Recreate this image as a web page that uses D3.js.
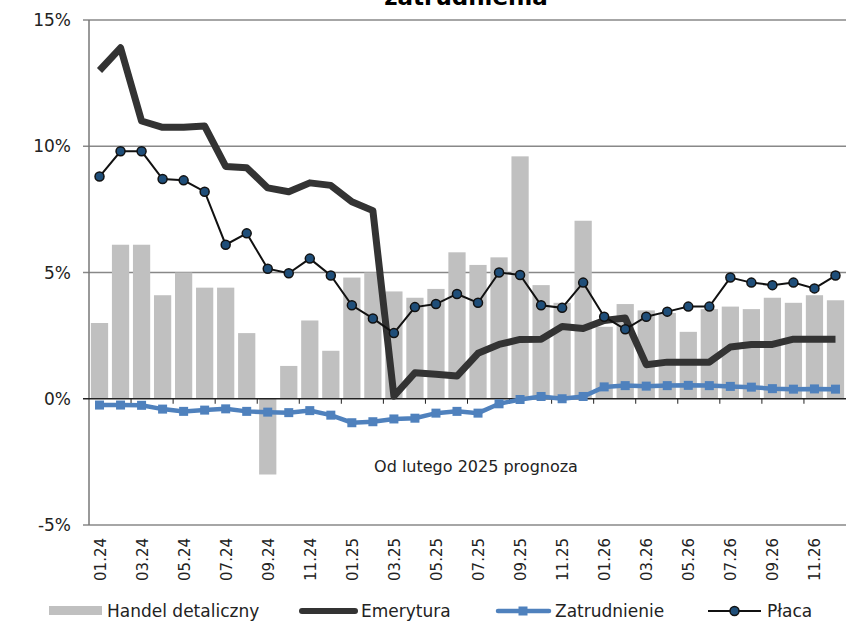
<!DOCTYPE html>
<html>
<head>
  <meta charset="utf-8">
  <title>zatrudnienia</title>
  <script src="https://d3js.org/d3.v7.min.js"></script>
  <style>
    body { margin: 0; background: #fff; }
    svg { display: block; font-family: "DejaVu Sans", Verdana, sans-serif; }
  </style>
</head>
<body>
  <svg width="846" height="623"></svg>
  <script>
    // miesiące 01.24 - 12.26
    var months = [];
    ["24", "25", "26"].forEach(function (yr) {
      for (var m = 1; m <= 12; m++) months.push((m < 10 ? "0" + m : "" + m) + "." + yr);
    });

    var handel = [3.0, 6.1, 6.1, 4.1, 5.0, 4.4, 4.4, 2.6, -3.0, 1.3, 3.1, 1.9,
                  4.8, 5.0, 4.25, 4.0, 4.35, 5.8, 5.3, 5.6, 9.6, 4.5, 3.8, 7.05,
                  2.85, 3.75, 3.5, 3.4, 2.65, 3.55, 3.65, 3.55, 4.0, 3.8, 4.1, 3.9];
    var emerytura = [13.0, 13.9, 11.0, 10.75, 10.75, 10.8, 9.2, 9.15, 8.35, 8.2, 8.55, 8.45,
                     7.8, 7.45, 0.1, 1.03, 0.97, 0.9, 1.8, 2.15, 2.35, 2.36, 2.86, 2.78,
                     3.1, 3.2, 1.35, 1.45, 1.45, 1.45, 2.05, 2.15, 2.15, 2.36, 2.36, 2.36];
    var zatrudnienie = [-0.25, -0.25, -0.26, -0.41, -0.5, -0.45, -0.4, -0.5, -0.53, -0.55, -0.47, -0.65,
                        -0.95, -0.91, -0.8, -0.77, -0.57, -0.5, -0.57, -0.2, -0.03, 0.09, 0.0, 0.09,
                        0.47, 0.52, 0.5, 0.52, 0.53, 0.52, 0.49, 0.46, 0.4, 0.38, 0.39, 0.38];
    var placa = [8.8, 9.8, 9.8, 8.7, 8.65, 8.2, 6.1, 6.55, 5.15, 4.97, 5.55, 4.88,
                 3.7, 3.18, 2.6, 3.63, 3.75, 4.15, 3.8, 5.0, 4.9, 3.7, 3.6, 4.6,
                 3.25, 2.75, 3.25, 3.45, 3.65, 3.65, 4.8, 4.6, 4.5, 4.6, 4.37, 4.88];
    var yTicks = [-5, 0, 5, 10, 15];

    var svg = d3.select("svg");
    var x = d3.scaleBand().domain(months).range([89, 846]).paddingInner(0.18).paddingOuter(0.09);
    var y = d3.scaleLinear().domain([-5, 15]).range([525, 20]);
    var cx = function (i) { return x(months[i]) + x.bandwidth() / 2; };

    // siatka pozioma
    svg.append("g").selectAll("line")
      .data(yTicks.filter(function (t) { return t !== 0; }))
      .enter().append("line")
      .attr("x1", 83).attr("x2", 846)
      .attr("y1", function (d) { return y(d); }).attr("y2", function (d) { return y(d); })
      .attr("stroke", "#888").attr("stroke-width", 1.5);

    // słupki - handel detaliczny
    svg.append("g").selectAll("rect")
      .data(handel)
      .enter().append("rect")
      .attr("x", function (d, i) { return x(months[i]); })
      .attr("width", x.bandwidth())
      .attr("y", function (d) { return y(Math.max(0, d)); })
      .attr("height", function (d) { return Math.abs(y(d) - y(0)); })
      .attr("fill", "#c0c0c0");

    // oś Y
    svg.append("line")
      .attr("x1", 89).attr("x2", 89).attr("y1", y(15)).attr("y2", y(-5))
      .attr("stroke", "#777").attr("stroke-width", 1.5);
    svg.append("g").selectAll("text")
      .data(yTicks)
      .enter().append("text")
      .attr("x", 71).attr("y", function (d) { return y(d) + 6; })
      .attr("text-anchor", "end")
      .attr("font-size", 17).attr("fill", "#222")
      .text(function (d) { return d + "%"; });

    // oś X na zerze
    svg.append("line")
      .attr("x1", 83).attr("x2", 846).attr("y1", y(0)).attr("y2", y(0))
      .attr("stroke", "#222").attr("stroke-width", 1.5);
    svg.append("g").selectAll("line")
      .data(months.filter(function (d, i) { return i % 2 === 0 && i > 0; }))
      .enter().append("line")
      .attr("x1", function (d) { return x(d) - x.step() * x.paddingInner() / 2; })
      .attr("x2", function (d) { return x(d) - x.step() * x.paddingInner() / 2; })
      .attr("y1", y(0)).attr("y2", y(0) + 5)
      .attr("stroke", "#222").attr("stroke-width", 1);

    svg.append("g").selectAll("text")
      .data(months.filter(function (d, i) { return i % 2 === 0; }))
      .enter().append("text")
      .attr("transform", function (d) {
        return "translate(" + (x(d) + x.bandwidth() / 2 + 6) + ",538) rotate(-90)";
      })
      .attr("text-anchor", "end")
      .attr("font-size", 15).attr("fill", "#222")
      .text(function (d) { return d; });

    // linie
    var line = d3.line()
      .x(function (d, i) { return cx(i); })
      .y(function (d) { return y(d); });

    svg.append("path").datum(emerytura)
      .attr("d", line).attr("fill", "none")
      .attr("stroke", "#333").attr("stroke-width", 7)
      .attr("stroke-linejoin", "round");

    svg.append("path").datum(zatrudnienie)
      .attr("d", line).attr("fill", "none")
      .attr("stroke", "#4f81bd").attr("stroke-width", 4.5);
    svg.append("g").selectAll("rect")
      .data(zatrudnienie)
      .enter().append("rect")
      .attr("x", function (d, i) { return cx(i) - 4.5; })
      .attr("y", function (d) { return y(d) - 4.5; })
      .attr("width", 9).attr("height", 9)
      .attr("fill", "#4f81bd");

    svg.append("path").datum(placa)
      .attr("d", line).attr("fill", "none")
      .attr("stroke", "#111").attr("stroke-width", 2);
    svg.append("g").selectAll("circle")
      .data(placa)
      .enter().append("circle")
      .attr("cx", function (d, i) { return cx(i); })
      .attr("cy", function (d) { return y(d); })
      .attr("r", 4.5)
      .attr("fill", "#1f4e79").attr("stroke", "#111").attr("stroke-width", 1.5);

    // tytuł (przycięty u góry jak w oryginale) i adnotacja
    svg.append("text")
      .attr("x", 466).attr("y", 5)
      .attr("text-anchor", "middle")
      .attr("font-size", 23).attr("font-weight", "bold")
      .text("zatrudnienia");

    svg.append("text")
      .attr("x", 476).attr("y", 472)
      .attr("text-anchor", "middle")
      .attr("font-size", 16).attr("fill", "#222")
      .text("Od lutego 2025 prognoza");

    // legenda
    var lg = svg.append("g").attr("font-size", 17).attr("fill", "#222");
    lg.append("rect").attr("x", 49).attr("y", 606).attr("width", 53).attr("height", 9).attr("fill", "#c0c0c0");
    lg.append("text").attr("x", 107).attr("y", 617).text("Handel detaliczny");

    lg.append("line").attr("x1", 302).attr("x2", 355).attr("y1", 611).attr("y2", 611)
      .attr("stroke", "#333").attr("stroke-width", 6).attr("stroke-linecap", "round");
    lg.append("text").attr("x", 361).attr("y", 617).text("Emerytura");

    lg.append("line").attr("x1", 498).attr("x2", 549).attr("y1", 611).attr("y2", 611)
      .attr("stroke", "#4f81bd").attr("stroke-width", 4.5).attr("stroke-linecap", "round");
    lg.append("rect").attr("x", 518.5).attr("y", 606.5).attr("width", 9).attr("height", 9).attr("fill", "#4f81bd");
    lg.append("text").attr("x", 555).attr("y", 617).text("Zatrudnienie");

    lg.append("line").attr("x1", 708).attr("x2", 761).attr("y1", 611).attr("y2", 611)
      .attr("stroke", "#111").attr("stroke-width", 2);
    lg.append("circle").attr("cx", 734.5).attr("cy", 611).attr("r", 4.5)
      .attr("fill", "#1f4e79").attr("stroke", "#111").attr("stroke-width", 1.5);
    lg.append("text").attr("x", 767).attr("y", 617).text("Płaca");
  </script>
</body>
</html>
